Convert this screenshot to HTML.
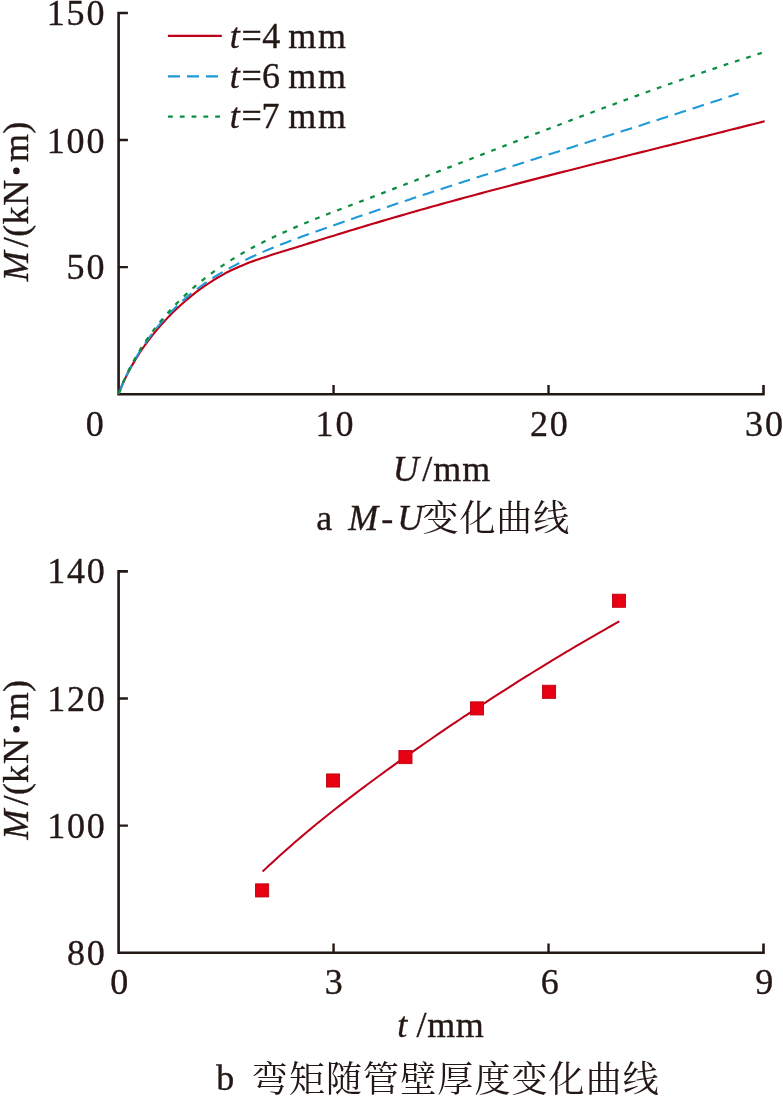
<!DOCTYPE html>
<html lang="zh"><head><meta charset="utf-8"><title>M-U</title>
<style>
html,body{margin:0;padding:0;background:#fff;}
body{width:783px;height:1096px;overflow:hidden;}
svg{display:block;position:absolute;left:0;top:0;will-change:transform;}
text{font-family:"Liberation Serif",serif;font-size:36px;fill:#231815;stroke:#231815;stroke-width:0.35px;white-space:pre;}
text.cjk{font-family:"Liberation Serif","Noto Serif CJK SC",serif;stroke:none;}
</style></head><body>
<svg width="783" height="1096" viewBox="0 0 783 1096">
<path d="M127.90 13.00 H118.60 V394.20 H763.50 V384.90" fill="none" stroke="#231815" stroke-width="2.60" stroke-linejoin="miter"/>
<path d="M118.60 140.07h9.30M333.57 394.20v-9.30M118.60 267.13h9.30M548.53 394.20v-9.30" fill="none" stroke="#231815" stroke-width="2.4"/>
<path d="M118.70 393.60C119.07 392.67 120.15 389.89 120.91 388.05C121.68 386.21 122.47 384.38 123.29 382.56C124.11 380.75 124.96 378.94 125.83 377.15C126.71 375.36 127.61 373.58 128.53 371.81C129.46 370.04 130.41 368.29 131.38 366.54C132.36 364.80 133.36 363.07 134.38 361.35C135.40 359.63 136.45 357.93 137.52 356.24C138.58 354.55 139.68 352.87 140.79 351.20C141.90 349.54 143.04 347.89 144.20 346.25C145.35 344.61 146.53 342.99 147.73 341.38C148.93 339.78 150.15 338.18 151.39 336.60C152.62 335.02 153.88 333.46 155.16 331.91C156.43 330.36 157.73 328.82 159.04 327.30C160.35 325.78 161.68 324.28 163.03 322.79C164.38 321.30 165.74 319.83 167.12 318.37C168.50 316.92 169.90 315.47 171.31 314.05C172.72 312.63 174.15 311.22 175.60 309.83C177.04 308.44 178.50 307.07 179.98 305.71C181.45 304.36 182.94 303.03 184.45 301.71C185.96 300.40 187.48 299.10 189.02 297.82C190.55 296.55 192.11 295.29 193.68 294.06C195.24 292.83 196.83 291.61 198.43 290.42C200.02 289.23 201.64 288.06 203.27 286.92C204.89 285.77 206.54 284.65 208.20 283.55C209.85 282.45 211.53 281.38 213.22 280.33C214.90 279.28 216.60 278.25 218.32 277.25C220.04 276.25 221.77 275.28 223.51 274.33C225.26 273.38 227.02 272.46 228.79 271.57C230.57 270.67 232.36 269.81 234.16 268.97C235.96 268.13 237.77 267.32 239.60 266.53C241.43 265.74 243.27 264.98 245.12 264.24C246.97 263.50 248.83 262.78 250.70 262.08C252.57 261.38 254.45 260.70 256.33 260.03C258.22 259.36 260.11 258.71 262.01 258.06C263.91 257.42 265.82 256.80 267.72 256.17C269.63 255.55 271.55 254.94 273.46 254.34C275.37 253.73 277.29 253.14 279.21 252.54C281.13 251.94 283.05 251.35 284.97 250.76C286.88 250.16 288.80 249.57 290.72 248.98C292.64 248.38 294.55 247.79 296.47 247.20C298.38 246.60 300.30 246.01 302.21 245.42C304.13 244.82 306.04 244.23 307.95 243.63C309.87 243.04 311.78 242.45 313.69 241.86C315.60 241.26 317.51 240.67 319.43 240.08C321.34 239.49 323.25 238.90 325.16 238.31C327.07 237.72 328.98 237.13 330.89 236.54C332.80 235.95 334.72 235.36 336.63 234.77C338.54 234.18 340.45 233.60 342.36 233.01C344.27 232.43 346.18 231.84 348.09 231.26C350.00 230.67 351.91 230.09 353.83 229.51C355.74 228.93 357.65 228.35 359.56 227.77C361.47 227.19 363.38 226.62 365.30 226.04C367.21 225.46 369.12 224.89 371.04 224.32C372.95 223.75 374.87 223.17 376.78 222.61C378.69 222.04 380.61 221.47 382.53 220.90C384.44 220.34 386.36 219.77 388.28 219.21C390.19 218.65 392.11 218.09 394.03 217.53C395.95 216.97 397.87 216.41 399.78 215.86C401.70 215.30 403.62 214.75 405.54 214.20C407.46 213.64 409.39 213.09 411.31 212.54C413.23 211.99 415.15 211.45 417.07 210.90C418.99 210.35 420.92 209.81 422.84 209.26C424.76 208.72 426.69 208.18 428.61 207.64C430.54 207.10 432.46 206.56 434.39 206.02C436.31 205.48 438.24 204.95 440.16 204.41C442.09 203.88 444.02 203.34 445.94 202.81C447.87 202.28 449.80 201.75 451.72 201.22C453.65 200.69 455.58 200.16 457.51 199.63C459.44 199.10 461.37 198.58 463.30 198.05C465.22 197.53 467.15 197.00 469.08 196.48C471.01 195.96 472.95 195.44 474.88 194.92C476.81 194.40 478.74 193.88 480.67 193.36C482.60 192.84 484.53 192.32 486.47 191.81C488.40 191.29 490.33 190.78 492.26 190.26C494.20 189.75 496.13 189.24 498.06 188.73C500.00 188.21 501.93 187.70 503.86 187.19C505.80 186.68 507.73 186.18 509.67 185.67C511.60 185.16 513.54 184.65 515.47 184.15C517.41 183.64 519.34 183.14 521.28 182.63C523.22 182.13 525.15 181.62 527.09 181.12C529.02 180.62 530.96 180.12 532.90 179.61C534.84 179.11 536.77 178.61 538.71 178.11C540.65 177.61 542.58 177.12 544.52 176.62C546.46 176.12 548.40 175.62 550.34 175.12C552.27 174.63 554.21 174.13 556.15 173.64C558.09 173.14 560.03 172.65 561.97 172.15C563.91 171.66 565.85 171.16 567.78 170.67C569.72 170.18 571.66 169.69 573.60 169.19C575.54 168.70 577.48 168.21 579.42 167.72C581.36 167.23 583.30 166.74 585.24 166.25C587.18 165.76 589.12 165.27 591.06 164.78C593.00 164.29 594.94 163.80 596.88 163.31C598.82 162.83 600.77 162.34 602.71 161.85C604.65 161.36 606.59 160.88 608.53 160.39C610.47 159.90 612.41 159.42 614.35 158.93C616.29 158.44 618.23 157.96 620.17 157.47C622.12 156.99 624.06 156.50 626.00 156.02C627.94 155.53 629.88 155.05 631.82 154.56C633.76 154.08 635.70 153.59 637.65 153.11C639.59 152.62 641.53 152.14 643.47 151.65C645.41 151.17 647.35 150.68 649.29 150.20C651.23 149.72 653.18 149.23 655.12 148.75C657.06 148.26 659.00 147.78 660.94 147.30C662.88 146.81 664.82 146.33 666.76 145.84C668.71 145.36 670.65 144.88 672.59 144.39C674.53 143.91 676.47 143.42 678.41 142.94C680.35 142.46 682.29 141.97 684.23 141.49C686.17 141.00 688.11 140.52 690.05 140.03C691.99 139.55 693.93 139.06 695.87 138.58C697.81 138.09 699.75 137.61 701.69 137.12C703.63 136.64 705.57 136.15 707.51 135.66C709.45 135.18 711.39 134.69 713.33 134.20C715.27 133.72 717.21 133.23 719.15 132.74C721.09 132.26 723.03 131.77 724.97 131.28C726.91 130.79 728.84 130.30 730.78 129.81C732.72 129.32 734.66 128.83 736.60 128.34C738.53 127.85 740.47 127.36 742.41 126.87C744.35 126.38 746.28 125.89 748.22 125.40C750.16 124.91 752.10 124.41 754.03 123.92C755.97 123.43 758.06 122.89 759.84 122.44C761.62 121.99 763.89 121.41 764.70 121.20" fill="none" stroke="#c00018" stroke-width="2.15"/>
<path d="M118.70 393.60C119.07 392.68 120.14 389.90 120.90 388.06C121.66 386.21 122.44 384.38 123.25 382.55C124.06 380.73 124.89 378.91 125.75 377.09C126.61 375.28 127.49 373.48 128.39 371.69C129.30 369.90 130.22 368.11 131.18 366.34C132.13 364.57 133.10 362.80 134.10 361.05C135.10 359.30 136.12 357.56 137.16 355.83C138.20 354.10 139.26 352.39 140.35 350.68C141.43 348.98 142.54 347.29 143.66 345.61C144.79 343.94 145.94 342.27 147.11 340.62C148.28 338.97 149.47 337.34 150.67 335.72C151.88 334.10 153.11 332.50 154.36 330.91C155.60 329.32 156.87 327.75 158.16 326.20C159.44 324.64 160.75 323.11 162.07 321.59C163.39 320.07 164.73 318.57 166.09 317.09C167.45 315.60 168.82 314.14 170.21 312.70C171.61 311.25 173.02 309.83 174.44 308.42C175.87 307.02 177.31 305.63 178.77 304.27C180.23 302.91 181.70 301.57 183.19 300.25C184.68 298.93 186.19 297.64 187.71 296.36C189.23 295.09 190.77 293.84 192.32 292.61C193.87 291.38 195.43 290.17 197.01 288.98C198.58 287.79 200.18 286.63 201.78 285.48C203.38 284.34 205.00 283.21 206.63 282.10C208.26 280.99 209.91 279.91 211.56 278.84C213.21 277.77 214.88 276.72 216.56 275.68C218.24 274.65 219.93 273.63 221.63 272.63C223.33 271.63 225.04 270.65 226.76 269.68C228.48 268.72 230.21 267.77 231.95 266.83C233.69 265.89 235.44 264.97 237.20 264.06C238.96 263.16 240.73 262.27 242.50 261.39C244.28 260.51 246.07 259.64 247.86 258.79C249.65 257.93 251.45 257.09 253.26 256.26C255.07 255.43 256.88 254.61 258.70 253.81C260.53 253.00 262.35 252.20 264.19 251.41C266.02 250.63 267.86 249.85 269.71 249.08C271.55 248.32 273.41 247.56 275.26 246.81C277.12 246.06 278.98 245.32 280.84 244.58C282.71 243.85 284.58 243.12 286.45 242.40C288.32 241.68 290.20 240.97 292.08 240.26C293.96 239.55 295.84 238.85 297.73 238.15C299.61 237.45 301.50 236.76 303.39 236.07C305.28 235.39 307.17 234.70 309.07 234.02C310.96 233.34 312.85 232.66 314.75 231.99C316.64 231.31 318.54 230.64 320.44 229.97C322.33 229.30 324.23 228.63 326.12 227.96C328.02 227.29 329.92 226.63 331.81 225.96C333.71 225.30 335.61 224.63 337.50 223.97C339.40 223.31 341.30 222.65 343.19 221.99C345.09 221.33 346.99 220.67 348.88 220.02C350.78 219.36 352.68 218.71 354.57 218.05C356.47 217.40 358.37 216.75 360.27 216.10C362.16 215.44 364.06 214.79 365.96 214.15C367.86 213.50 369.75 212.85 371.65 212.21C373.55 211.56 375.45 210.92 377.35 210.27C379.24 209.63 381.14 208.99 383.04 208.35C384.94 207.70 386.84 207.06 388.74 206.43C390.63 205.79 392.53 205.15 394.43 204.51C396.33 203.88 398.23 203.24 400.13 202.61C402.03 201.97 403.93 201.34 405.83 200.71C407.72 200.08 409.62 199.44 411.52 198.81C413.42 198.18 415.32 197.56 417.22 196.93C419.12 196.30 421.02 195.67 422.92 195.05C424.82 194.42 426.72 193.79 428.62 193.17C430.52 192.54 432.42 191.92 434.32 191.30C436.22 190.68 438.12 190.05 440.02 189.43C441.92 188.81 443.82 188.19 445.72 187.57C447.62 186.95 449.52 186.33 451.42 185.71C453.32 185.10 455.22 184.48 457.12 183.86C459.02 183.25 460.92 182.63 462.82 182.02C464.72 181.40 466.63 180.79 468.53 180.17C470.43 179.56 472.33 178.94 474.23 178.33C476.13 177.72 478.03 177.11 479.93 176.49C481.83 175.88 483.74 175.27 485.64 174.66C487.54 174.05 489.44 173.44 491.34 172.83C493.24 172.22 495.14 171.61 497.05 171.00C498.95 170.40 500.85 169.79 502.75 169.18C504.65 168.57 506.55 167.97 508.46 167.36C510.36 166.75 512.26 166.14 514.16 165.54C516.06 164.93 517.97 164.33 519.87 163.72C521.77 163.12 523.67 162.51 525.57 161.90C527.48 161.30 529.38 160.70 531.28 160.09C533.18 159.49 535.09 158.88 536.99 158.28C538.89 157.67 540.79 157.07 542.70 156.47C544.60 155.86 546.50 155.26 548.40 154.66C550.31 154.05 552.21 153.45 554.11 152.84C556.01 152.24 557.92 151.64 559.82 151.04C561.72 150.43 563.63 149.83 565.53 149.23C567.43 148.62 569.33 148.02 571.24 147.42C573.14 146.81 575.04 146.21 576.95 145.61C578.85 145.00 580.75 144.40 582.66 143.80C584.56 143.19 586.46 142.59 588.37 141.99C590.27 141.38 592.17 140.78 594.08 140.18C595.98 139.57 597.88 138.97 599.79 138.36C601.69 137.76 603.59 137.16 605.50 136.55C607.40 135.95 609.30 135.34 611.21 134.74C613.11 134.13 615.02 133.53 616.92 132.92C618.82 132.31 620.73 131.71 622.63 131.10C624.53 130.50 626.44 129.89 628.34 129.28C630.24 128.67 632.15 128.07 634.05 127.46C635.96 126.85 637.86 126.24 639.76 125.63C641.67 125.02 643.57 124.42 645.48 123.81C647.38 123.20 649.28 122.59 651.19 121.97C653.09 121.36 655.00 120.75 656.90 120.14C658.80 119.53 660.71 118.92 662.61 118.30C664.52 117.69 666.42 117.08 668.32 116.46C670.23 115.85 672.13 115.23 674.04 114.62C675.94 114.00 677.84 113.38 679.75 112.77C681.65 112.15 683.56 111.53 685.46 110.91C687.36 110.30 689.27 109.68 691.17 109.06C693.08 108.44 694.98 107.82 696.89 107.19C698.79 106.57 700.69 105.95 702.60 105.33C704.50 104.70 706.41 104.08 708.31 103.45C710.22 102.83 712.12 102.20 714.02 101.58C715.93 100.95 717.83 100.32 719.74 99.69C721.64 99.06 723.54 98.43 725.45 97.80C727.35 97.17 729.26 96.54 731.16 95.91C733.07 95.28 735.62 94.43 736.87 94.01C738.13 93.59 738.40 93.50 738.70 93.40" fill="none" stroke="#1d9ad7" stroke-width="2.1" stroke-dasharray="12 6.89" stroke-dashoffset="0"/>
<path d="M118.70 393.60C119.06 392.66 120.11 389.82 120.86 387.94C121.60 386.06 122.37 384.20 123.16 382.34C123.95 380.49 124.76 378.65 125.60 376.82C126.43 374.99 127.29 373.17 128.17 371.36C129.05 369.56 129.96 367.76 130.89 365.98C131.81 364.20 132.76 362.43 133.73 360.67C134.70 358.92 135.69 357.17 136.70 355.44C137.71 353.71 138.74 351.99 139.79 350.28C140.85 348.58 141.92 346.88 143.01 345.20C144.10 343.52 145.22 341.86 146.35 340.20C147.48 338.55 148.63 336.91 149.80 335.28C150.97 333.66 152.15 332.05 153.36 330.45C154.56 328.85 155.79 327.26 157.03 325.69C158.27 324.12 159.53 322.57 160.81 321.02C162.08 319.48 163.37 317.95 164.68 316.44C165.99 314.93 167.32 313.43 168.66 311.95C170.00 310.46 171.36 308.99 172.73 307.54C174.11 306.09 175.50 304.65 176.90 303.22C178.30 301.80 179.72 300.39 181.15 299.00C182.59 297.61 184.03 296.23 185.50 294.87C186.96 293.51 188.43 292.16 189.92 290.83C191.41 289.50 192.91 288.19 194.42 286.89C195.94 285.59 197.46 284.31 199.00 283.04C200.54 281.78 202.09 280.53 203.66 279.30C205.22 278.07 206.80 276.85 208.38 275.65C209.97 274.45 211.56 273.27 213.17 272.11C214.78 270.94 216.40 269.79 218.03 268.66C219.65 267.53 221.29 266.42 222.94 265.32C224.59 264.22 226.25 263.13 227.92 262.07C229.58 261.00 231.26 259.94 232.95 258.91C234.63 257.87 236.33 256.84 238.03 255.83C239.74 254.82 241.45 253.82 243.17 252.84C244.89 251.85 246.62 250.88 248.35 249.93C250.09 248.97 251.83 248.02 253.58 247.09C255.34 246.15 257.09 245.23 258.86 244.32C260.63 243.41 262.40 242.51 264.18 241.62C265.96 240.73 267.74 239.85 269.53 238.98C271.32 238.12 273.12 237.26 274.92 236.41C276.73 235.56 278.54 234.72 280.35 233.89C282.16 233.06 283.98 232.23 285.81 231.42C287.63 230.60 289.46 229.80 291.30 229.00C293.13 228.20 294.97 227.41 296.81 226.62C298.65 225.83 300.50 225.06 302.35 224.28C304.20 223.51 306.05 222.74 307.91 221.98C309.76 221.22 311.62 220.47 313.48 219.72C315.35 218.96 317.21 218.22 319.08 217.48C320.95 216.74 322.82 216.00 324.69 215.26C326.56 214.53 328.43 213.80 330.31 213.07C332.18 212.34 334.06 211.62 335.94 210.90C337.82 210.17 339.70 209.45 341.58 208.73C343.46 208.01 345.34 207.30 347.22 206.58C349.10 205.87 350.98 205.15 352.86 204.44C354.74 203.72 356.62 203.01 358.50 202.29C360.38 201.58 362.26 200.86 364.14 200.14C366.02 199.43 367.90 198.71 369.78 197.99C371.65 197.28 373.53 196.56 375.41 195.84C377.28 195.12 379.16 194.40 381.03 193.68C382.91 192.97 384.78 192.25 386.66 191.53C388.53 190.81 390.40 190.08 392.28 189.36C394.15 188.64 396.02 187.92 397.89 187.20C399.76 186.48 401.64 185.76 403.51 185.03C405.38 184.31 407.25 183.59 409.12 182.87C410.99 182.14 412.85 181.42 414.72 180.70C416.59 179.97 418.46 179.25 420.33 178.52C422.20 177.80 424.06 177.08 425.93 176.35C427.80 175.63 429.66 174.90 431.53 174.18C433.40 173.45 435.26 172.73 437.13 172.00C438.99 171.28 440.86 170.55 442.72 169.83C444.59 169.10 446.45 168.38 448.32 167.65C450.18 166.93 452.04 166.20 453.91 165.48C455.77 164.75 457.63 164.03 459.50 163.30C461.36 162.58 463.22 161.85 465.09 161.13C466.95 160.40 468.81 159.68 470.67 158.95C472.54 158.23 474.40 157.50 476.26 156.78C478.12 156.05 479.98 155.33 481.85 154.61C483.71 153.88 485.57 153.16 487.43 152.44C489.29 151.71 491.15 150.99 493.01 150.27C494.88 149.54 496.74 148.82 498.60 148.10C500.46 147.37 502.32 146.65 504.18 145.93C506.04 145.21 507.90 144.49 509.77 143.77C511.63 143.05 513.49 142.33 515.35 141.61C517.21 140.89 519.07 140.17 520.93 139.45C522.79 138.73 524.66 138.01 526.52 137.29C528.38 136.57 530.24 135.85 532.10 135.14C533.96 134.42 535.82 133.70 537.69 132.99C539.55 132.27 541.41 131.56 543.27 130.84C545.14 130.13 547.00 129.41 548.86 128.70C550.72 127.99 552.59 127.27 554.45 126.56C556.31 125.85 558.18 125.14 560.04 124.43C561.90 123.72 563.77 123.01 565.63 122.30C567.49 121.59 569.36 120.88 571.22 120.17C573.09 119.46 574.95 118.76 576.82 118.05C578.68 117.35 580.55 116.64 582.42 115.94C584.28 115.23 586.15 114.53 588.02 113.83C589.88 113.12 591.75 112.42 593.62 111.72C595.49 111.02 597.35 110.32 599.22 109.62C601.09 108.93 602.96 108.23 604.83 107.53C606.70 106.84 608.57 106.14 610.44 105.45C612.31 104.75 614.18 104.06 616.05 103.37C617.92 102.68 619.80 101.98 621.67 101.29C623.54 100.60 625.41 99.92 627.29 99.23C629.16 98.54 631.04 97.86 632.91 97.17C634.79 96.49 636.66 95.80 638.54 95.12C640.41 94.44 642.29 93.76 644.17 93.08C646.04 92.40 647.92 91.72 649.80 91.04C651.68 90.36 653.56 89.69 655.44 89.01C657.32 88.34 659.20 87.67 661.08 86.99C662.97 86.32 664.85 85.65 666.73 84.98C668.61 84.31 670.50 83.65 672.38 82.98C674.27 82.32 676.15 81.65 678.04 80.99C679.93 80.33 681.81 79.66 683.70 79.00C685.59 78.34 687.48 77.69 689.37 77.03C691.26 76.37 693.15 75.72 695.04 75.07C696.93 74.41 698.83 73.76 700.72 73.11C702.61 72.46 704.51 71.81 706.40 71.17C708.30 70.52 710.20 69.88 712.09 69.23C713.99 68.59 715.89 67.95 717.79 67.31C719.69 66.67 721.59 66.03 723.49 65.40C725.39 64.76 727.29 64.13 729.20 63.50C731.10 62.86 733.01 62.23 734.91 61.61C736.82 60.98 738.72 60.35 740.63 59.73C742.54 59.10 744.45 58.48 746.36 57.86C748.27 57.24 750.18 56.62 752.10 56.00C754.01 55.39 756.22 54.68 757.84 54.16C759.45 53.64 761.14 53.11 761.80 52.90" fill="none" stroke="#0c8e42" stroke-width="2.25" stroke-dasharray="4.8 7" stroke-dashoffset="0"/>
<path d="M167.9 35.8H221.8" stroke="#c00018" stroke-width="2.15"/>
<path d="M168 76.4H225" stroke="#1d9ad7" stroke-width="2.1" stroke-dasharray="12 7"/>
<path d="M168 116.7H222" stroke="#0c8e42" stroke-width="2.25" stroke-dasharray="4.8 7"/>
<text x="229.70" y="47.70" style="font-style:italic;">t</text>
<text x="241.58" y="47.70">=</text>
<text x="262.13" y="47.70">4</text>
<text x="288.35" y="47.70">m</text>
<text x="318.00" y="47.70">m</text>
<text x="229.70" y="87.80" style="font-style:italic;">t</text>
<text x="241.58" y="87.80">=</text>
<text x="261.96" y="87.80">6</text>
<text x="288.35" y="87.80">m</text>
<text x="318.00" y="87.80">m</text>
<text x="229.70" y="127.90" style="font-style:italic;">t</text>
<text x="241.58" y="127.90">=</text>
<text x="261.53" y="127.90">7</text>
<text x="288.35" y="127.90">m</text>
<text x="318.00" y="127.90">m</text>
<text x="106.20" y="24.60" text-anchor="end" style="letter-spacing:1.80px;">150</text>
<text x="106.20" y="152.70" text-anchor="end" style="letter-spacing:1.80px;">100</text>
<text x="106.20" y="279.00" text-anchor="end" style="letter-spacing:1.80px;">50</text>
<text x="85.70" y="436.00">0</text>
<text x="315.60" y="436.00" style="letter-spacing:1.80px;">10</text>
<text x="529.90" y="436.00" style="letter-spacing:1.80px;">20</text>
<text x="745.10" y="436.00" style="letter-spacing:1.80px;">30</text>
<g transform="translate(28.30 282.00) rotate(-90)">
<text x="0.89" y="0.00" style="font-style:italic;">M</text>
<text x="34.85" y="0.00">/</text>
<text x="45.39" y="0.00">(</text>
<text x="57.51" y="0.00">k</text>
<text x="76.35" y="0.00">N</text>
<circle cx="111.1" cy="-11.9" r="3.3" fill="#231815"/>
<text x="120.05" y="0.00">m</text>
<text x="148.32" y="0.00">)</text>
</g>
<text x="392.82" y="480.60" style="font-style:italic;">U</text>
<text x="422.15" y="480.60">/</text>
<text x="433.25" y="480.60">m</text>
<text x="462.20" y="480.60">m</text>
<text x="316.17" y="529.50">a</text>
<text x="348.30" y="529.50" style="font-style:italic;">M</text>
<text x="381.24" y="529.50">-</text>
<text x="397.17" y="529.50" style="font-style:italic;">U</text>
<path d="M127.90 571.40 H118.60 V952.70 H763.50 V943.40" fill="none" stroke="#231815" stroke-width="2.60" stroke-linejoin="miter"/>
<path d="M118.60 698.50h9.30M333.57 952.70v-9.30M118.60 825.60h9.30M548.53 952.70v-9.30" fill="none" stroke="#231815" stroke-width="2.4"/>
<path d="M262.60 871.60C263.57 870.68 266.46 867.92 268.40 866.09C270.35 864.27 272.30 862.46 274.26 860.65C276.22 858.85 278.19 857.05 280.17 855.26C282.15 853.48 284.13 851.70 286.13 849.93C288.12 848.17 290.12 846.41 292.13 844.66C294.14 842.91 296.15 841.17 298.18 839.43C300.20 837.70 302.23 835.97 304.27 834.26C306.30 832.54 308.35 830.83 310.40 829.13C312.44 827.43 314.50 825.73 316.56 824.04C318.62 822.36 320.69 820.68 322.77 819.00C324.84 817.33 326.92 815.66 329.00 814.00C331.09 812.34 333.18 810.69 335.27 809.04C337.37 807.40 339.47 805.76 341.57 804.12C343.68 802.48 345.79 800.86 347.90 799.23C350.02 797.61 352.13 795.99 354.26 794.37C356.38 792.76 358.50 791.15 360.63 789.55C362.76 787.94 364.90 786.34 367.04 784.75C369.17 783.16 371.31 781.57 373.46 779.98C375.60 778.40 377.75 776.82 379.91 775.24C382.06 773.66 384.21 772.09 386.37 770.53C388.53 768.96 390.69 767.40 392.86 765.84C395.02 764.28 397.19 762.73 399.36 761.18C401.53 759.63 403.71 758.08 405.89 756.54C408.06 755.00 410.25 753.46 412.43 751.93C414.61 750.40 416.80 748.87 418.99 747.34C421.18 745.81 423.37 744.29 425.56 742.77C427.76 741.26 429.95 739.74 432.15 738.23C434.35 736.72 436.55 735.21 438.75 733.71C440.96 732.20 443.16 730.70 445.37 729.20C447.58 727.71 449.79 726.21 452.00 724.72C454.22 723.23 456.43 721.74 458.65 720.26C460.86 718.77 463.08 717.29 465.30 715.81C467.52 714.34 469.74 712.86 471.97 711.39C474.19 709.92 476.42 708.45 478.65 706.98C480.87 705.52 483.10 704.06 485.34 702.60C487.57 701.14 489.80 699.69 492.04 698.23C494.28 696.78 496.52 695.33 498.76 693.89C501.00 692.45 503.24 691.01 505.49 689.57C507.73 688.13 509.98 686.70 512.23 685.27C514.48 683.84 516.74 682.41 518.99 680.99C521.25 679.57 523.50 678.15 525.76 676.74C528.02 675.32 530.28 673.91 532.55 672.50C534.81 671.10 537.08 669.70 539.35 668.30C541.62 666.90 543.89 665.50 546.16 664.11C548.44 662.72 550.71 661.34 552.99 659.95C555.27 658.57 557.55 657.19 559.84 655.82C562.12 654.45 564.41 653.08 566.70 651.71C568.99 650.35 571.28 648.99 573.57 647.63C575.87 646.27 578.16 644.92 580.46 643.57C582.76 642.23 585.07 640.88 587.37 639.54C589.68 638.20 591.99 636.87 594.30 635.54C596.61 634.21 598.92 632.89 601.24 631.57C603.55 630.25 605.87 628.93 608.19 627.62C610.52 626.31 613.32 624.74 615.17 623.70C617.02 622.66 618.61 621.78 619.30 621.40" fill="none" stroke="#c00018" stroke-width="2.05"/>
<rect x="255.55" y="883.85" width="13.10" height="13.10" fill="#e60012" stroke="#c00012" stroke-width="0.9"/>
<rect x="326.45" y="773.95" width="13.10" height="13.10" fill="#e60012" stroke="#c00012" stroke-width="0.9"/>
<rect x="398.90" y="750.55" width="13.10" height="13.10" fill="#e60012" stroke="#c00012" stroke-width="0.9"/>
<rect x="470.45" y="701.85" width="13.10" height="13.10" fill="#e60012" stroke="#c00012" stroke-width="0.9"/>
<rect x="542.50" y="685.25" width="13.10" height="13.10" fill="#e60012" stroke="#c00012" stroke-width="0.9"/>
<rect x="612.45" y="594.20" width="13.10" height="13.10" fill="#e60012" stroke="#c00012" stroke-width="0.9"/>
<text x="106.60" y="583.30" text-anchor="end" style="letter-spacing:1.80px;">140</text>
<text x="106.60" y="710.70" text-anchor="end" style="letter-spacing:1.80px;">120</text>
<text x="106.60" y="837.90" text-anchor="end" style="letter-spacing:1.80px;">100</text>
<text x="106.60" y="965.20" text-anchor="end" style="letter-spacing:1.80px;">80</text>
<text x="110.20" y="994.30">0</text>
<text x="324.70" y="994.30">3</text>
<text x="540.70" y="994.30">6</text>
<text x="755.30" y="994.30">9</text>
<g transform="translate(28.30 840.40) rotate(-90)">
<text x="0.89" y="0.00" style="font-style:italic;">M</text>
<text x="34.85" y="0.00">/</text>
<text x="45.39" y="0.00">(</text>
<text x="57.51" y="0.00">k</text>
<text x="76.35" y="0.00">N</text>
<circle cx="111.1" cy="-11.9" r="3.3" fill="#231815"/>
<text x="120.05" y="0.00">m</text>
<text x="148.32" y="0.00">)</text>
</g>
<text x="397.20" y="1037.10" style="font-style:italic;">t</text>
<text x="416.40" y="1037.10">/</text>
<text x="427.15" y="1037.10">m</text>
<text x="455.75" y="1037.10">m</text>
<text x="216.20" y="1089.80">b</text>
<text x="422.5" y="531.4" class="cjk" style="letter-spacing:0.9px;">变化曲线</text>
<text x="251.8" y="1091.5" class="cjk" style="letter-spacing:1.1px;">弯矩随管壁厚度变化曲线</text>
</svg>
</body></html>
